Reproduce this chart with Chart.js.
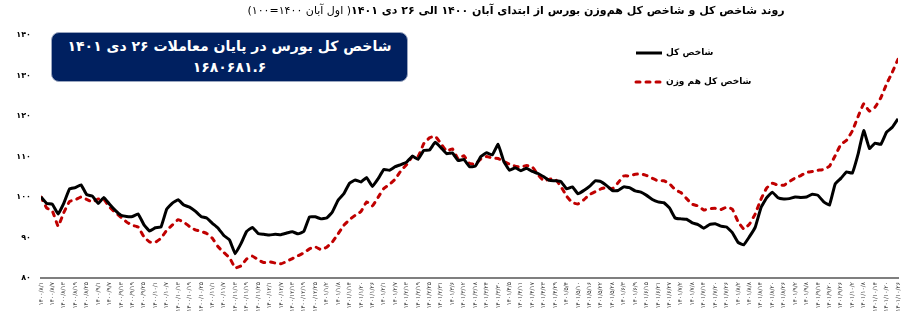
<!DOCTYPE html>
<html><head><meta charset="utf-8">
<script src="https://cdn.jsdelivr.net/npm/chart.js@4"></script>
<style>
html,body{margin:0;padding:0;background:#fff;overflow:hidden;}
#wrap{position:relative;width:921px;height:321px;overflow:hidden;}
#title{position:absolute;top:4px;left:100px;width:832px;text-align:center;direction:rtl;font-family:"DejaVu Sans";font-size:11px;font-weight:bold;color:#000;white-space:nowrap;}
#title span{font-weight:normal;}
#box{position:absolute;left:51px;top:32px;width:357px;height:50px;background:#002060;border-radius:8px;border:1px solid #9aa6bf;box-sizing:border-box;color:#fff;font-family:"DejaVu Sans";font-weight:bold;font-size:14px;text-align:center;direction:rtl;line-height:21px;padding-top:3px;white-space:nowrap;}
canvas{position:absolute;left:0;top:0;}
</style>
</head><body>
<div id="wrap">
<canvas id="c" width="921" height="321"></canvas>
<div id="title">روند شاخص کل و شاخص کل هم‌وزن بورس از ابتدای آبان ۱۴۰۰ الی ۲۶ دی ۱۴۰۱<span>( اول آبان ۱۴۰۰=۱۰۰)</span></div>
<div id="box">شاخص کل بورس در پایان معاملات ۲۶ دی ۱۴۰۱<br>۱۶۸۰۶۸۱.۶</div>
</div>
<script>
const seriesNames = ['شاخص کل', 'شاخص کل هم وزن'];

const dateLabels = [
'۱۴۰۰/۸/۱','۱۴۰۰/۸/۷','۱۴۰۰/۸/۱۳','۱۴۰۰/۸/۱۹','۱۴۰۰/۸/۲۵','۱۴۰۰/۹/۱','۱۴۰۰/۹/۷','۱۴۰۰/۹/۱۳','۱۴۰۰/۹/۱۹','۱۴۰۰/۹/۲۵',
'۱۴۰۰/۱۰/۱','۱۴۰۰/۱۰/۷','۱۴۰۰/۱۰/۱۳','۱۴۰۰/۱۰/۱۹','۱۴۰۰/۱۰/۲۵','۱۴۰۰/۱۱/۱','۱۴۰۰/۱۱/۷','۱۴۰۰/۱۱/۱۳','۱۴۰۰/۱۱/۱۹','۱۴۰۰/۱۱/۲۵',
'۱۴۰۰/۱۲/۱','۱۴۰۰/۱۲/۷','۱۴۰۰/۱۲/۱۳','۱۴۰۰/۱۲/۱۹','۱۴۰۰/۱۲/۲۵','۱۴۰۱/۱/۲','۱۴۰۱/۱/۸','۱۴۰۱/۱/۱۴','۱۴۰۱/۱/۲۰','۱۴۰۱/۱/۲۶',
'۱۴۰۱/۲/۱','۱۴۰۱/۲/۷','۱۴۰۱/۲/۱۳','۱۴۰۱/۲/۱۹','۱۴۰۱/۲/۲۵','۱۴۰۱/۲/۳۱','۱۴۰۱/۳/۶','۱۴۰۱/۳/۱۲','۱۴۰۱/۳/۱۸','۱۴۰۱/۳/۲۴',
'۱۴۰۱/۳/۳۰','۱۴۰۱/۴/۵','۱۴۰۱/۴/۱۱','۱۴۰۱/۴/۱۷','۱۴۰۱/۴/۲۳','۱۴۰۱/۴/۲۹','۱۴۰۱/۵/۴','۱۴۰۱/۵/۱۰','۱۴۰۱/۵/۱۶','۱۴۰۱/۵/۲۲',
'۱۴۰۱/۵/۲۸','۱۴۰۱/۶/۳','۱۴۰۱/۶/۹','۱۴۰۱/۶/۱۵','۱۴۰۱/۶/۲۱','۱۴۰۱/۶/۲۷','۱۴۰۱/۷/۲','۱۴۰۱/۷/۸','۱۴۰۱/۷/۱۴','۱۴۰۱/۷/۲۰',
'۱۴۰۱/۷/۲۶','۱۴۰۱/۸/۲','۱۴۰۱/۸/۸','۱۴۰۱/۸/۱۴','۱۴۰۱/۸/۲۰','۱۴۰۱/۸/۲۶','۱۴۰۱/۹/۲','۱۴۰۱/۹/۸','۱۴۰۱/۹/۱۴','۱۴۰۱/۹/۲۰',
'۱۴۰۱/۹/۲۶','۱۴۰۱/۱۰/۲','۱۴۰۱/۱۰/۸','۱۴۰۱/۱۰/۱۴','۱۴۰۱/۱۰/۲۰','۱۴۰۱/۱۰/۲۶'
];

const yTickLabels = {80:'۸۰',90:'۹۰',100:'۱۰۰',110:'۱۱۰',120:'۱۲۰',130:'۱۳۰',140:'۱۴۰'};

const totalIndex = [
100,98.4,98.2,95.8,98.5,102.0,102.3,103.0,100.6,100.2,
98.4,99.9,98.2,96.7,95.5,95.2,95.2,95.8,93.2,91.6,
92.4,92.6,97.0,98.5,99.3,98.0,97.5,96.5,95.2,94.8,
93.5,92.3,90.5,89.4,86.0,88.5,91.5,92.5,91.0,90.8,
90.6,90.8,90.7,91.1,91.4,90.9,91.5,95.1,95.1,94.6,
94.8,96.3,99.2,100.8,103.4,104.2,103.7,104.8,102.6,104.5,
106.8,106.6,107.5,108.0,108.6,110.1,109.3,111.5,111.6,113.5,
112.2,110.7,110.9,109.0,109.3,107.5,107.6,110.0,110.9,110.4,
113.0,108.8,106.6,107.2,106.5,107.1,106.3,105.8,105.0,104.1,
104.0,103.8,102.0,102.5,100.8,101.6,102.6,104.0,103.8,102.8,
101.6,101.6,102.5,102.3,101.5,101.2,100.4,99.4,98.8,98.6,
97.3,94.8,94.6,94.5,93.6,93.2,92.3,93.2,93.4,92.8,
92.6,91.2,88.8,88.2,90.2,92.5,97.3,99.8,101.2,99.8,
99.5,99.6,100.0,99.9,100.0,100.7,100.4,98.8,98.0,103.2,
104.6,106.2,105.9,110.5,116.4,112.0,113.3,113.0,116.0,117.2,
119.3
];

const equalWeightIndex = [
100,97.3,96.5,92.8,96.2,98.9,99.3,100.0,99.4,98.8,
99.5,99.4,97.5,96.2,95.0,93.8,93.0,92.6,90.2,88.9,
88.8,89.8,91.8,93.1,94.4,93.8,92.7,91.9,91.5,91.0,
89.8,87.7,86.3,85.0,82.5,83.0,84.7,85.4,84.5,83.8,
84.0,83.7,83.5,84.1,84.8,85.5,86.2,87.2,87.7,87.0,
87.6,88.9,90.9,93.0,94.4,95.5,96.4,98.8,97.8,99.9,
102.1,103.1,104.4,106.5,108.0,110.0,110.0,113.2,114.6,115.0,
113.2,111.3,111.9,109.4,110.2,108.3,108.1,109.4,110.0,109.6,
109.5,108.8,108.1,107.6,107.4,107.8,107.4,105.5,104.0,104.4,
104.4,102.6,100.2,98.6,98.3,99.3,100.6,101.3,102.0,102.4,
102.0,103.5,105.2,105.2,105.6,105.7,105.3,104.6,104.0,104.0,
103.3,101.8,101.1,99.6,98.2,97.8,96.8,97.1,97.2,96.9,
97.5,97.0,93.9,92.1,93.3,95.8,99.4,102.2,103.4,102.9,
102.9,103.8,104.7,105.3,106.1,106.3,106.6,106.8,107.6,110.2,
113.0,114.0,116.3,119.8,123.0,121.2,122.2,124.5,127.9,130.8,
134.0
];

const toXY = arr => arr.map((v, i) => ({x: i, y: v}));

const legendPlugin = {
  id: 'customLegend',
  afterDraw(chart) {
    const ctx = chart.ctx;
    const rows = [{y: 53}, {y: 82}];
    chart.data.datasets.forEach((ds, i) => {
      const y = rows[i].y;
      ctx.save();
      ctx.strokeStyle = ds.borderColor;
      ctx.lineWidth = ds.borderWidth;
      ctx.lineCap = ds.borderCapStyle || 'butt';
      ctx.setLineDash(ds.borderDash || []);
      ctx.beginPath();
      ctx.moveTo(636, y);
      ctx.lineTo(662, y);
      ctx.stroke();
      ctx.setLineDash([]);
      ctx.fillStyle = '#000';
      ctx.font = 'bold 9px "DejaVu Sans"';
      ctx.textBaseline = 'middle';
      ctx.textAlign = 'left';
      ctx.fillText(ds.label, 666, y);
      ctx.restore();
    });
  }
};

new Chart(document.getElementById('c'), {
  type: 'line',
  data: {
    datasets: [
      {label: seriesNames[0], data: toXY(totalIndex), borderColor: '#000000', borderWidth: 3, pointRadius: 0, tension: 0.1, fill: false},
      {label: seriesNames[1], data: toXY(equalWeightIndex), borderColor: '#C00000', borderWidth: 3, borderDash: [4, 6], borderCapStyle: 'round', pointRadius: 0, tension: 0.1, fill: false}
    ]
  },
  options: {
    responsive: false,
    animation: false,
    layout: {padding: {left: 0, right: 23, top: 35, bottom: 0}},
    plugins: {legend: {display: false}, tooltip: {enabled: false}, title: {display: false}},
    scales: {
      x: {
        type: 'linear', min: 0, max: totalIndex.length - 1,
        grid: {display: false, drawTicks: false},
        border: {display: true, color: '#7f7f7f', width: 2},
        afterFit(s) { s.height = 43; },
        afterBuildTicks(s) {
          s.ticks = dateLabels.map((d, i) => ({value: i * 2}));
        },
        ticks: {
          autoSkip: false, maxRotation: 90, minRotation: 90, padding: 4,
          color: '#404040', font: {family: 'DejaVu Sans', size: 6},
          callback: (v) => dateLabels[Math.round(v / 2)]
        }
      },
      y: {
        min: 80, max: 140,
        grid: {display: false, drawTicks: false},
        border: {display: false},
        afterFit(s) { s.width = 41; },
        ticks: {
          stepSize: 10, padding: 10, color: '#000',
          font: {family: 'DejaVu Sans', size: 8, weight: 'bold'},
          callback: (v) => yTickLabels[v]
        }
      }
    }
  },
  plugins: [legendPlugin]
});
</script>
</body></html>
